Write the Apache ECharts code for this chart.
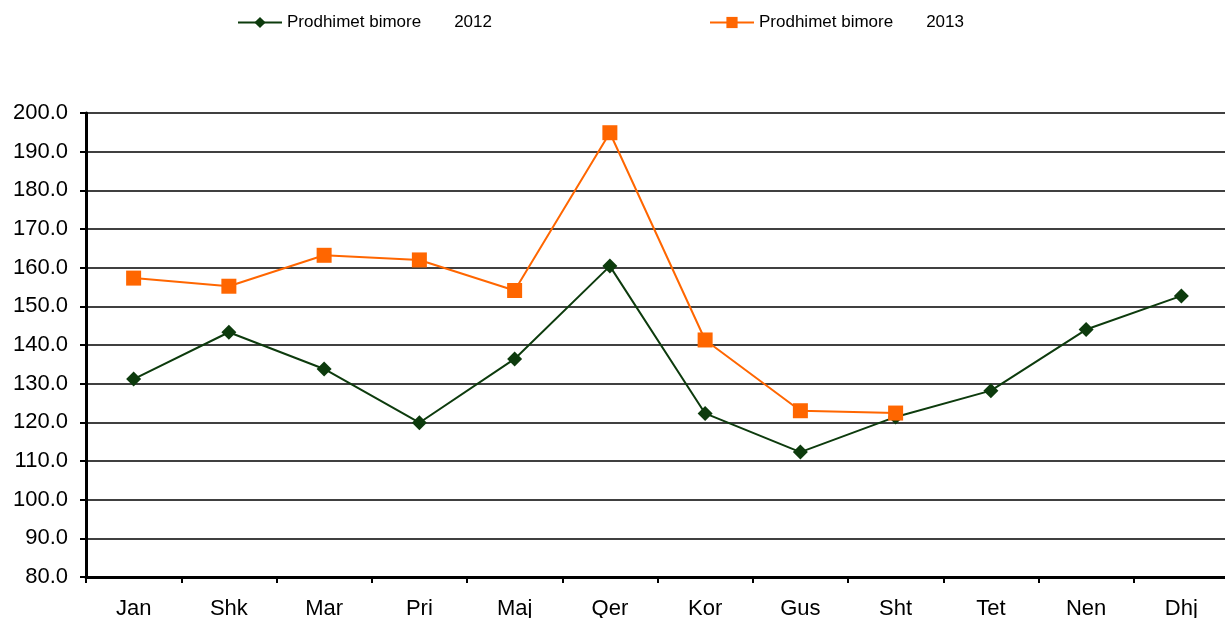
<!DOCTYPE html>
<html>
<head>
<meta charset="utf-8">
<script src="https://cdn.jsdelivr.net/npm/echarts@6/dist/echarts.min.js"></script>
<style>
  html, body { margin: 0; padding: 0; background: #fff; }
  #main { width: 1225px; height: 618px; }
</style>
</head>
<body>
<div id="main"></div>
<script>
// muajt
var months = ['Jan', 'Shk', 'Mar', 'Pri', 'Maj', 'Qer', 'Kor', 'Gus', 'Sht', 'Tet', 'Nen', 'Dhj'];
// vlerat e lexuara nga grafiku
var prod2012 = [131.2, 143.3, 133.8, 119.9, 136.4, 160.4, 122.3, 112.3, 121.4, 128.2, 144.0, 152.7];
var prod2013 = [157.3, 155.2, 163.2, 162.0, 154.1, 194.9, 141.3, 123.0, 122.4, null, null, null];
var name2012 = 'Prodhimet bimore 2012';
var name2013 = 'Prodhimet bimore 2013';

var myChart = echarts.init(document.getElementById('main'));

var legendText = {
    fontFamily: 'Liberation Sans, Arial', fontSize: 17, color: '#000',
    rich: {
        a: { fontFamily: 'Liberation Sans, Arial', fontSize: 17, color: '#000' },
        b: { fontFamily: 'Liberation Sans, Arial', fontSize: 17, color: '#000', padding: [0, 0, 0, 33] }
    }
};
function legendFmt(n) {
    var i = n.lastIndexOf(' ');
    return '{a|' + n.slice(0, i) + '}{b|' + n.slice(i + 1) + '}';
}

myChart.setOption({
    animation: false,
    legend: [
        { data: [name2012], left: 232, top: 9, itemWidth: 44, itemHeight: 14, itemGap: 12, formatter: legendFmt, textStyle: legendText },
        { data: [name2013], left: 704, top: 9, itemWidth: 44, itemHeight: 14, itemGap: 12, formatter: legendFmt, textStyle: legendText }
    ],
    grid: { left: 86, top: 113, bottom: 41, right: -4, outerBoundsMode: 'none', containLabel: false },
    xAxis: {
        type: 'category',
        data: months,
        boundaryGap: true,
        axisLine: { lineStyle: { color: '#000', width: 3 } },
        axisTick: { show: true, length: 6, lineStyle: { color: '#000', width: 2 } },
        axisLabel: { color: '#000', fontSize: 22, fontFamily: 'Liberation Sans, Arial', margin: 21 },
        splitLine: { show: false }
    },
    yAxis: {
        type: 'value',
        min: 80,
        max: 200,
        interval: 10,
        axisLine: { show: true, lineStyle: { color: '#000', width: 3 } },
        axisTick: { show: true, length: 6, lineStyle: { color: '#000', width: 2 } },
        axisLabel: {
            color: '#000', fontSize: 22, fontFamily: 'Liberation Sans, Arial', margin: 18,
            formatter: function (v) { return v.toFixed(1); }
        },
        splitLine: { lineStyle: { color: '#000', width: 1.6 } }
    },
    series: [{
        name: name2012,
        type: 'line',
        data: prod2012,
        symbol: 'diamond',
        symbolSize: 15,
        color: '#0d3b0d',
        lineStyle: { color: '#0d3b0d', width: 2 },
        itemStyle: { color: '#0d3b0d' }
    }, {
        name: name2013,
        type: 'line',
        data: prod2013,
        symbol: 'rect',
        symbolSize: 15,
        color: '#ff6600',
        lineStyle: { color: '#ff6600', width: 2 },
        itemStyle: { color: '#ff6600' }
    }]
});
</script>
</body>
</html>
